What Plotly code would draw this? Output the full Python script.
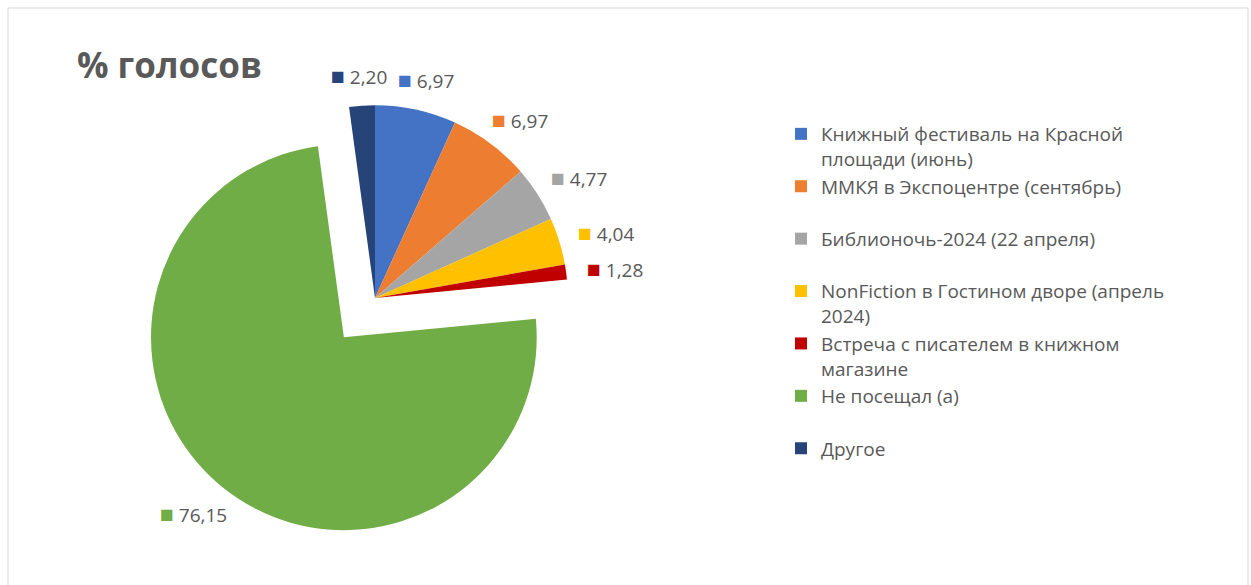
import math
import plotly.graph_objects as go

# data
labels = [
    "Книжный фестиваль на Красной<br>площади (июнь)",
    "ММКЯ в Экспоцентре (сентябрь)<br> ",
    "Библионочь-2024 (22 апреля)<br> ",
    "NonFiction в Гостином дворе (апрель<br>2024)",
    "Встреча с писателем в книжном<br>магазине",
    "Не посещал (а)<br> ",
    "Другое<br> ",
]
values = [6.97, 6.97, 4.77, 4.04, 1.28, 76.15, 2.20]
colors = ["#4472C4", "#ED7D31", "#A5A5A5", "#FFC000", "#C00000", "#70AD47", "#264478"]
pull = [0, 0, 0, 0, 0, 0.26, 0]

W, H = 1251, 585
# pie box in pixels (square), centre of the unpulled slices
cx, cy, box = 375, 298, 486
r = box / (2 + 2 * max(pull))

fig = go.Figure()
fig.add_trace(go.Pie(
    labels=labels, values=values, sort=False, direction="clockwise", rotation=0,
    pull=pull, marker=dict(colors=colors, line=dict(width=0)),
    textinfo="none",
    domain=dict(x=[(cx - box / 2) / W, (cx + box / 2) / W],
                y=[1 - (cy + box / 2) / H, 1 - (cy - box / 2) / H]),
    hoverinfo="label+value",
))

# data labels outside the end of each slice (Excel style)
anns = []
tot = sum(values)
start = 0
gap, lw, lh = 20, 58, 22
for v, c, p in zip(values, colors, pull):
    mid = (start + v / 2) / tot * 2 * math.pi
    start += v
    ux, uy = math.sin(mid), -math.cos(mid)
    x0 = cx + p * r * ux
    y0 = cy + p * r * uy
    lx = x0 + (r + gap) * ux + lw / 2 * ux
    ly = y0 + (r + gap) * uy + lh / 2 * uy
    anns.append(dict(
        text='<span style="color:%s;font-size:23px">■</span> %s' % (c, f"{v:.2f}".replace(".", ",")),
        x=lx / W, y=1 - ly / H, xref="paper", yref="paper", xanchor="center", yanchor="middle",
        showarrow=False, font=dict(family="Open Sans", size=19, color="#595959")))

anns.append(dict(text="<b>% голосов</b>", x=75 / W, y=1 - 64 / H, xref="paper", yref="paper",
                 xanchor="left", yanchor="middle", showarrow=False,
                 font=dict(size=35, color="#595959")))

fig.update_layout(
    width=W, height=H,
    margin=dict(l=0, r=0, t=0, b=0, autoexpand=False),
    paper_bgcolor="white",
    font=dict(family="Open Sans", color="#595959"),
    showlegend=True,
    legend=dict(x=781 / W, y=1 - 115 / H, xanchor="left", yanchor="top",
                valign="top", font=dict(size=19, color="#595959"),
                bgcolor="rgba(0,0,0,0)"),
    annotations=anns,
    shapes=[dict(type="rect", xref="paper", yref="paper", x0=8 / W, x1=1248 / W, y0=-0.1, y1=1 - 8 / H,
                 line=dict(color="#D9D9D9", width=1))],
)

fig.write_html("out.html", config={"displayModeBar": False},
               post_script="document.body.style.margin='0';")
